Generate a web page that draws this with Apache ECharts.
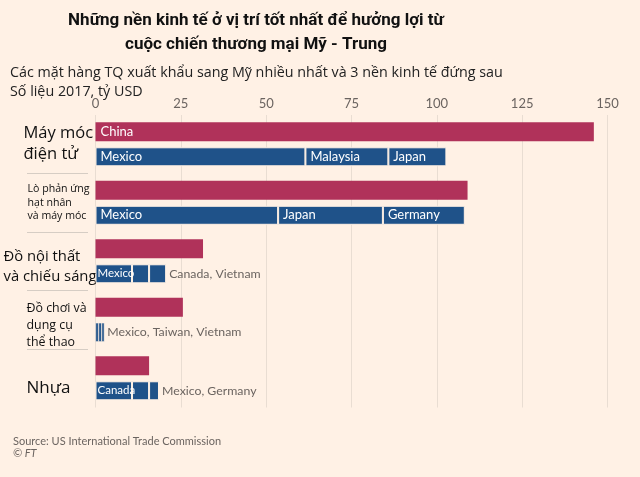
<!DOCTYPE html>
<html><head><meta charset="utf-8">
<script src="https://cdn.jsdelivr.net/npm/echarts@6/dist/echarts.min.js"></script>
<style>html,body{margin:0;padding:0;background:#fff1e5;}#c{width:640px;height:477px;}</style>
</head><body><div id="c"></div>
<script>
var categories = ['may', 'lo', 'noithat', 'dochoi', 'nhua'];
var categoryLabels = [
  '{big|Máy móc}\n{big|điện tử}',
  '{small|Lò phản ứng}\n{small|hạt nhân}\n{small|và máy móc}',
  '{sp12| }\n{mid|Đồ nội thất}\n{mid|và chiếu sáng}',
  '{sp12| }\n{toy|Đồ chơi và}\n{toy|dụng cụ}\n{toy|thể thao}',
  '{sp19| }\n{nhua|Nhựa}'
];
var chinaValues = [146, 109, 31.5, 25.6, 15.7];
var firstValues = [61.5, 53.5, 10.7, 0.9, 10.7];
var secondValues = [24.3, 30.7, 5, 0.9, 5];
var thirdValues = [17, 24, 5, 0.8, 2.9];
var chinaLabels = ['China', '', '', '', ''];
var firstLabels = ['Mexico', 'Mexico', 'Mexico', '', 'Canada'];
var secondLabels = ['Malaysia', 'Japan', '', '', ''];
var thirdLabels = ['Japan', 'Germany', '', '', ''];
var outsideLabels = ['', '', 'Canada, Vietnam', 'Mexico, Taiwan, Vietnam', 'Mexico, Germany'];
var xTicks = [0, 25, 50, 75, 100, 125, 150];

var RED = '#b0325a', BLUE = '#1f5289', BG = '#fff1e5';
var FONT = 'Open Sans';
var TFONT = 'Roboto';
var BARFONT = 'Lato';
var smallFlags = [false, false, true, true, true];

function blueItem(v, i) {
  var item = { value: v };
  if (v < 2) item.itemStyle = { borderWidth: 0.5 };
  return item;
}
function insideItems(values, labels, small) {
  return values.map(function (v, i) {
    var item = blueItem(v, i);
    if (labels[i]) {
      item.label = { show: true, formatter: labels[i], position: 'insideLeft', distance: small[i] ? 2 : 5,
        color: '#ffffff', fontFamily: BARFONT, fontSize: small[i] ? 11.5 : 13 };
    }
    return item;
  });
}

var thirdData = thirdValues.map(function (v, i) {
  var item = blueItem(v, i);
  if (thirdLabels[i]) {
    item.label = { show: true, formatter: thirdLabels[i], position: 'insideLeft', distance: 5,
      color: '#ffffff', fontFamily: BARFONT, fontSize: 13 };
  } else if (outsideLabels[i]) {
    item.label = { show: true, formatter: outsideLabels[i], position: 'right', distance: 3,
      color: '#6b6460', fontFamily: BARFONT, fontSize: 12.3 };
  }
  return item;
});

var chart = echarts.init(document.getElementById('c'), null, { renderer: 'canvas' });
chart.setOption({
  backgroundColor: BG,
  animation: false,
  title: [
    { text: 'Những nền kinh tế ở vị trí tốt nhất để hưởng lợi từ\ncuộc chiến thương mại Mỹ - Trung',
      left: 251, top: 4, textAlign: 'center',
      textStyle: { fontFamily: TFONT, fontWeight: 'bold', fontSize: 17, lineHeight: 24, color: '#111111' } },
    { text: 'Các mặt hàng TQ xuất khẩu sang Mỹ nhiều nhất và 3 nền kinh tế đứng sau\nSố liệu 2017, tỷ USD',
      left: 5, top: 58,
      textStyle: { fontFamily: FONT, fontWeight: 'normal', fontSize: 14.3, lineHeight: 19, color: '#222222' } },
    { text: 'Source: US International Trade Commission', left: 8, top: 431,
      textStyle: { fontFamily: BARFONT, fontWeight: 'normal', fontSize: 11, color: '#6b6460' } },
    { text: '© FT', left: 8, top: 443,
      textStyle: { fontFamily: BARFONT, fontWeight: 'normal', fontStyle: 'italic', fontSize: 11, color: '#6b6460' } }
  ],
  grid: [
    { left: 95.5, right: 32.5, top: 115, height: 292.5, containLabel: false },
    { left: 27, width: 61, top: 115, height: 292.5, containLabel: false }
  ],
  xAxis: [
    { type: 'value', gridIndex: 0, position: 'top', min: xTicks[0], max: xTicks[xTicks.length - 1], interval: 25,
      axisLine: { show: false }, axisTick: { show: false },
      axisLabel: { color: '#6b6460', fontFamily: BARFONT, fontSize: 13, margin: 5 },
      splitLine: { show: true, lineStyle: { color: '#e9ddd2', width: 1 } } },
    { type: 'value', gridIndex: 1, show: false, min: 0, max: 1 }
  ],
  yAxis: [
    { type: 'category', gridIndex: 0, data: categories, inverse: true,
      axisLine: { show: false }, axisTick: { show: false }, splitLine: { show: false },
      axisLabel: {
        show: true, align: 'left', margin: 92,
        formatter: function (v, i) { return categoryLabels[i]; },
        rich: {
          big: { fontFamily: FONT, fontSize: 16.5, lineHeight: 21, color: '#111', padding: [0, 0, 0, 20] },
          small: { fontFamily: FONT, fontSize: 10.6, lineHeight: 13.5, color: '#111', padding: [0, 0, 0, 24] },
          mid: { fontFamily: FONT, fontSize: 14.8, lineHeight: 20, color: '#111' },
          toy: { fontFamily: FONT, fontSize: 12.4, lineHeight: 17, color: '#111', padding: [0, 0, 0, 23] },
          nhua: { fontFamily: FONT, fontSize: 17, lineHeight: 22, color: '#111', padding: [0, 0, 0, 23] },
          sp12: { fontSize: 1, lineHeight: 12 },
          sp19: { fontSize: 1, lineHeight: 19 }
        }
      } },
    { type: 'value', gridIndex: 1, min: 0, max: 5, interval: 1, inverse: true,
      axisLine: { show: false }, axisTick: { show: false }, axisLabel: { show: false },
      splitLine: { show: true, showMinLine: false, showMaxLine: false, lineStyle: { color: '#d6cdc4', width: 1 } } }
  ],
  series: [
    { type: 'bar', name: 'China', stack: 'r', xAxisIndex: 0, yAxisIndex: 0, barWidth: 19, barGap: '32%',
      itemStyle: { color: RED },
      data: chinaValues.map(function (v, i) {
        var item = { value: v };
        if (chinaLabels[i]) item.label = { show: true, formatter: chinaLabels[i], position: 'insideLeft', distance: 5,
          color: '#ffffff', fontFamily: BARFONT, fontSize: 13 };
        return item;
      }) },
    { type: 'bar', name: 'first', stack: 'b', xAxisIndex: 0, yAxisIndex: 0, barWidth: 19, barGap: '32%',
      itemStyle: { color: BLUE, borderColor: BG, borderWidth: 1 }, data: insideItems(firstValues, firstLabels, smallFlags) },
    { type: 'bar', name: 'second', stack: 'b', xAxisIndex: 0, yAxisIndex: 0, barWidth: 19, barGap: '32%',
      itemStyle: { color: BLUE, borderColor: BG, borderWidth: 1 }, data: insideItems(secondValues, secondLabels, smallFlags) },
    { type: 'bar', name: 'third', stack: 'b', xAxisIndex: 0, yAxisIndex: 0, barWidth: 19, barGap: '32%',
      itemStyle: { color: BLUE, borderColor: BG, borderWidth: 1 }, data: thirdData },
    { type: 'scatter', xAxisIndex: 1, yAxisIndex: 1, data: [] }
  ]
});
</script></body></html>
